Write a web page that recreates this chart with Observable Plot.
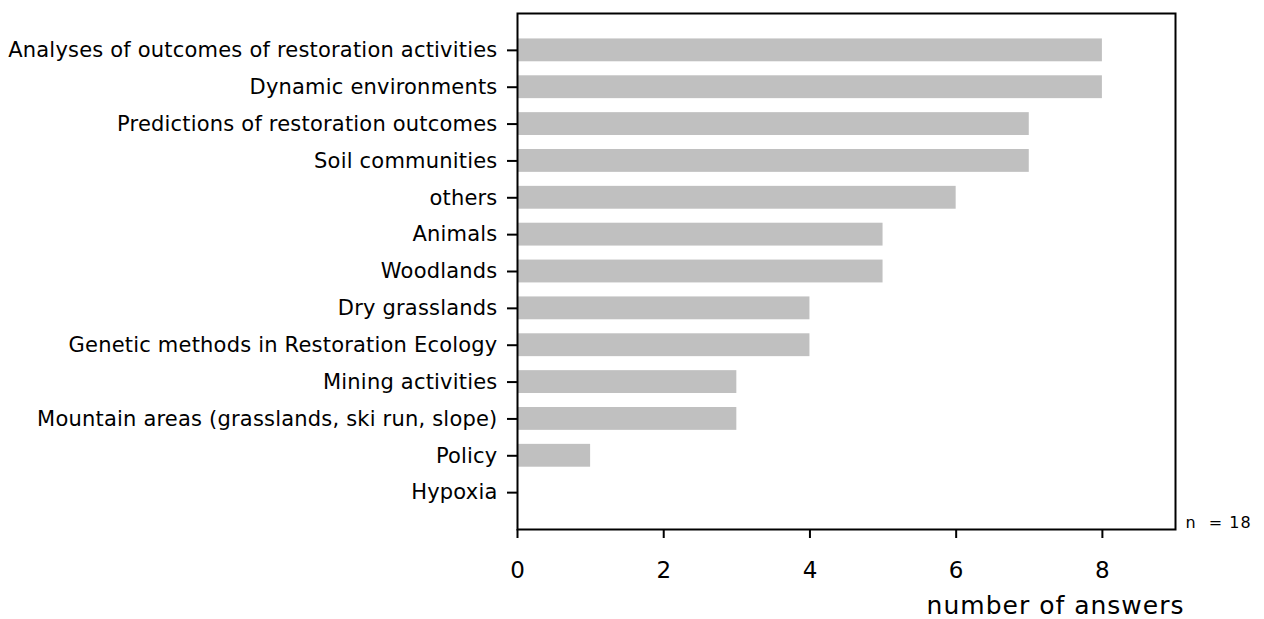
<!DOCTYPE html>
<html>
<head>
<meta charset="utf-8">
<script src="https://cdn.jsdelivr.net/npm/d3@7"></script>
<script src="https://cdn.jsdelivr.net/npm/@observablehq/plot@0.6"></script>
<style>
  html, body { margin: 0; padding: 0; background: #fff; }
  #chart svg { display: block; }
</style>
</head>
<body>
<div id="chart"></div>
<script>
const categories = [
  "Analyses of outcomes of restoration activities",
  "Dynamic environments",
  "Predictions of restoration outcomes",
  "Soil communities",
  "others",
  "Animals",
  "Woodlands",
  "Dry grasslands",
  "Genetic methods in Restoration Ecology",
  "Mining activities",
  "Mountain areas (grasslands, ski run, slope)",
  "Policy",
  "Hypoxia"
];
const answers = [8, 8, 7, 7, 6, 5, 5, 4, 4, 3, 3, 1, 0];
const xTicks = [0, 2, 4, 6, 8];
const xLabel = "number of answers";
const nNote = "n  = 18";

const data = categories.map((c, i) => ({category: c, value: answers[i]}));

const chart = Plot.plot({
  width: 1264,
  height: 619,
  marginLeft: 517,
  marginRight: 89,
  marginTop: 13,
  marginBottom: 90,
  style: {fontFamily: "DejaVu Sans, Verdana, sans-serif", background: "#fff", color: "#000"},
  x: {domain: [0, 9], ticks: xTicks},
  y: {domain: categories, paddingInner: 0.38, paddingOuter: 0.69, round: false},
  marks: [
    Plot.barX(data, {x: "value", y: "category", fill: "#c0c0c0"}),
    Plot.axisY({tickSize: 10, tickPadding: 10, fontSize: 21, label: null, strokeWidth: 2}),
    Plot.axisX({ticks: xTicks, tickSize: 9, tickPadding: 23, fontSize: 23, label: null, strokeWidth: 2, tickFormat: d3.format("d")}),
    Plot.frame({stroke: "black", strokeWidth: 2}),
    Plot.text([xLabel], {frameAnchor: "bottom-right", dx: 9, dy: 76, textAnchor: "end", lineAnchor: "middle", fontSize: 25}),
    Plot.text([nNote], {frameAnchor: "bottom-right", dx: 10, dy: -7, textAnchor: "start", lineAnchor: "middle", fontSize: 16})
  ]
});
const svgSel = d3.select(chart);
svgSel.selectAll("text").each(function() {
  const t = this.textContent;
  if (t === xLabel) this.style.letterSpacing = "1px";
  else if (t === nNote) this.style.letterSpacing = "1px";
  else if (categories.includes(t)) this.style.letterSpacing = "0.2px";
});
document.getElementById("chart").append(chart);
</script>
</body>
</html>
